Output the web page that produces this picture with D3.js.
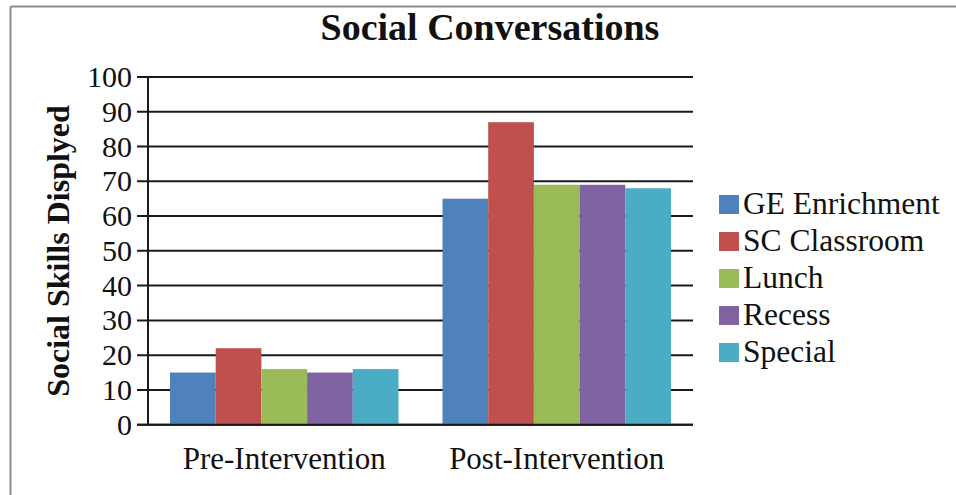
<!DOCTYPE html>
<html>
<head>
<meta charset="utf-8">
<script src="https://cdn.jsdelivr.net/npm/d3@7"></script>
<style>
  body { margin: 0; background: #fff; }
  svg { display: block; font-family: "Liberation Serif", "Times New Roman", serif; }
</style>
</head>
<body>
<svg id="chart" width="956" height="495"></svg>
<script>
const phases = ['Pre-Intervention', 'Post-Intervention'];
const settings = ['GE Enrichment', 'SC Classroom', 'Lunch', 'Recess', 'Special'];
const preValues = [15, 22, 16, 15, 16];
const postValues = [65, 87, 69, 69, 68];
const yTicks = [0, 10, 20, 30, 40, 50, 60, 70, 80, 90, 100];
const colors = ['#4f81bd', '#c0504d', '#9bbb59', '#8064a2', '#4bacc6'];

const svg = d3.select('#chart');
const margin = { top: 77, left: 148, right: 263, bottom: 70 };
const width = 956, height = 495;
const innerWidth = width - margin.left - margin.right;   // ~545
const innerHeight = height - margin.top - margin.bottom;

// outer frame (only top + left visible in the crop)
svg.append('line').attr('x1', 10.5).attr('x2', 956).attr('y1', 6.5).attr('y2', 6.5)
  .attr('stroke', '#8c8c8c').attr('stroke-width', 2);
svg.append('line').attr('x1', 10.5).attr('x2', 10.5).attr('y1', 6.5).attr('y2', 495)
  .attr('stroke', '#8c8c8c').attr('stroke-width', 2);

const y = d3.scaleLinear().domain([0, 100]).range([margin.top + innerHeight - 0.3, margin.top]);
const x0 = d3.scaleBand().domain(phases).range([margin.left, margin.left + innerWidth]);
const gap = 22;
const x1 = d3.scaleBand().domain(settings).range([gap, x0.bandwidth() - gap]);

// gridlines + tick marks
svg.selectAll('.grid').data(yTicks).join('line')
  .attr('class', 'grid')
  .attr('x1', margin.left - 11).attr('x2', margin.left + innerWidth)
  .attr('y1', d => y(d)).attr('y2', d => y(d))
  .attr('stroke', '#1a1a1a').attr('stroke-width', 2);

// y tick labels
svg.selectAll('.ytl').data(yTicks).join('text')
  .attr('class', 'ytl')
  .attr('x', margin.left - 16).attr('y', d => y(d) + 10)
  .attr('text-anchor', 'end')
  .attr('font-size', 30)
  .attr('fill', '#111')
  .text(d => d);

// bars
const data = phases.map((p, i) => ({ phase: p, values: i === 0 ? preValues : postValues }));
const groups = svg.selectAll('.grp').data(data).join('g')
  .attr('class', 'grp')
  .attr('transform', d => `translate(${x0(d.phase)},0)`);
groups.selectAll('rect').data(d => d.values.map((v, j) => ({ key: settings[j], v, c: colors[j] })))
  .join('rect')
  .attr('x', d => x1(d.key))
  .attr('width', x1.bandwidth())
  .attr('y', d => y(d.v))
  .attr('height', d => y(0) - y(d.v))
  .attr('fill', d => d.c);

// axis lines
svg.append('line').attr('x1', margin.left).attr('x2', margin.left).attr('y1', margin.top).attr('y2', y(0))
  .attr('stroke', '#1a1a1a').attr('stroke-width', 2);
svg.append('line').attr('x1', margin.left - 11).attr('x2', margin.left + innerWidth).attr('y1', y(0)).attr('y2', y(0))
  .attr('stroke', '#1a1a1a').attr('stroke-width', 2);

// category labels
svg.selectAll('.xl').data(phases).join('text')
  .attr('class', 'xl')
  .attr('x', d => x0(d) + x0.bandwidth() / 2)
  .attr('y', 469)
  .attr('text-anchor', 'middle')
  .attr('font-size', 31)
  .attr('fill', '#111')
  .text(d => d);

// title
svg.append('text')
  .attr('x', 490).attr('y', 40)
  .attr('text-anchor', 'middle')
  .attr('font-size', 38).attr('font-weight', 'bold')
  .attr('fill', '#111')
  .text('Social Conversations');

// y axis title
svg.append('text')
  .attr('transform', `translate(69,${margin.top + innerHeight / 2}) rotate(-90)`)
  .attr('text-anchor', 'middle')
  .attr('font-size', 32).attr('font-weight', 'bold')
  .attr('fill', '#111')
  .text('Social Skills Displyed');

// legend
const legendX = 719, legendY = 204, rowH = 37;
svg.selectAll('.lsw').data(settings).join('rect')
  .attr('class', 'lsw')
  .attr('x', legendX).attr('y', (d, i) => legendY + i * rowH - 9)
  .attr('width', 20).attr('height', 19)
  .attr('fill', (d, i) => colors[i]);
svg.selectAll('.ltx').data(settings).join('text')
  .attr('class', 'ltx')
  .attr('x', legendX + 24).attr('y', (d, i) => legendY + i * rowH + 10)
  .attr('font-size', 31.5).attr('fill', '#111')
  .text(d => d);
</script>
</body>
</html>
